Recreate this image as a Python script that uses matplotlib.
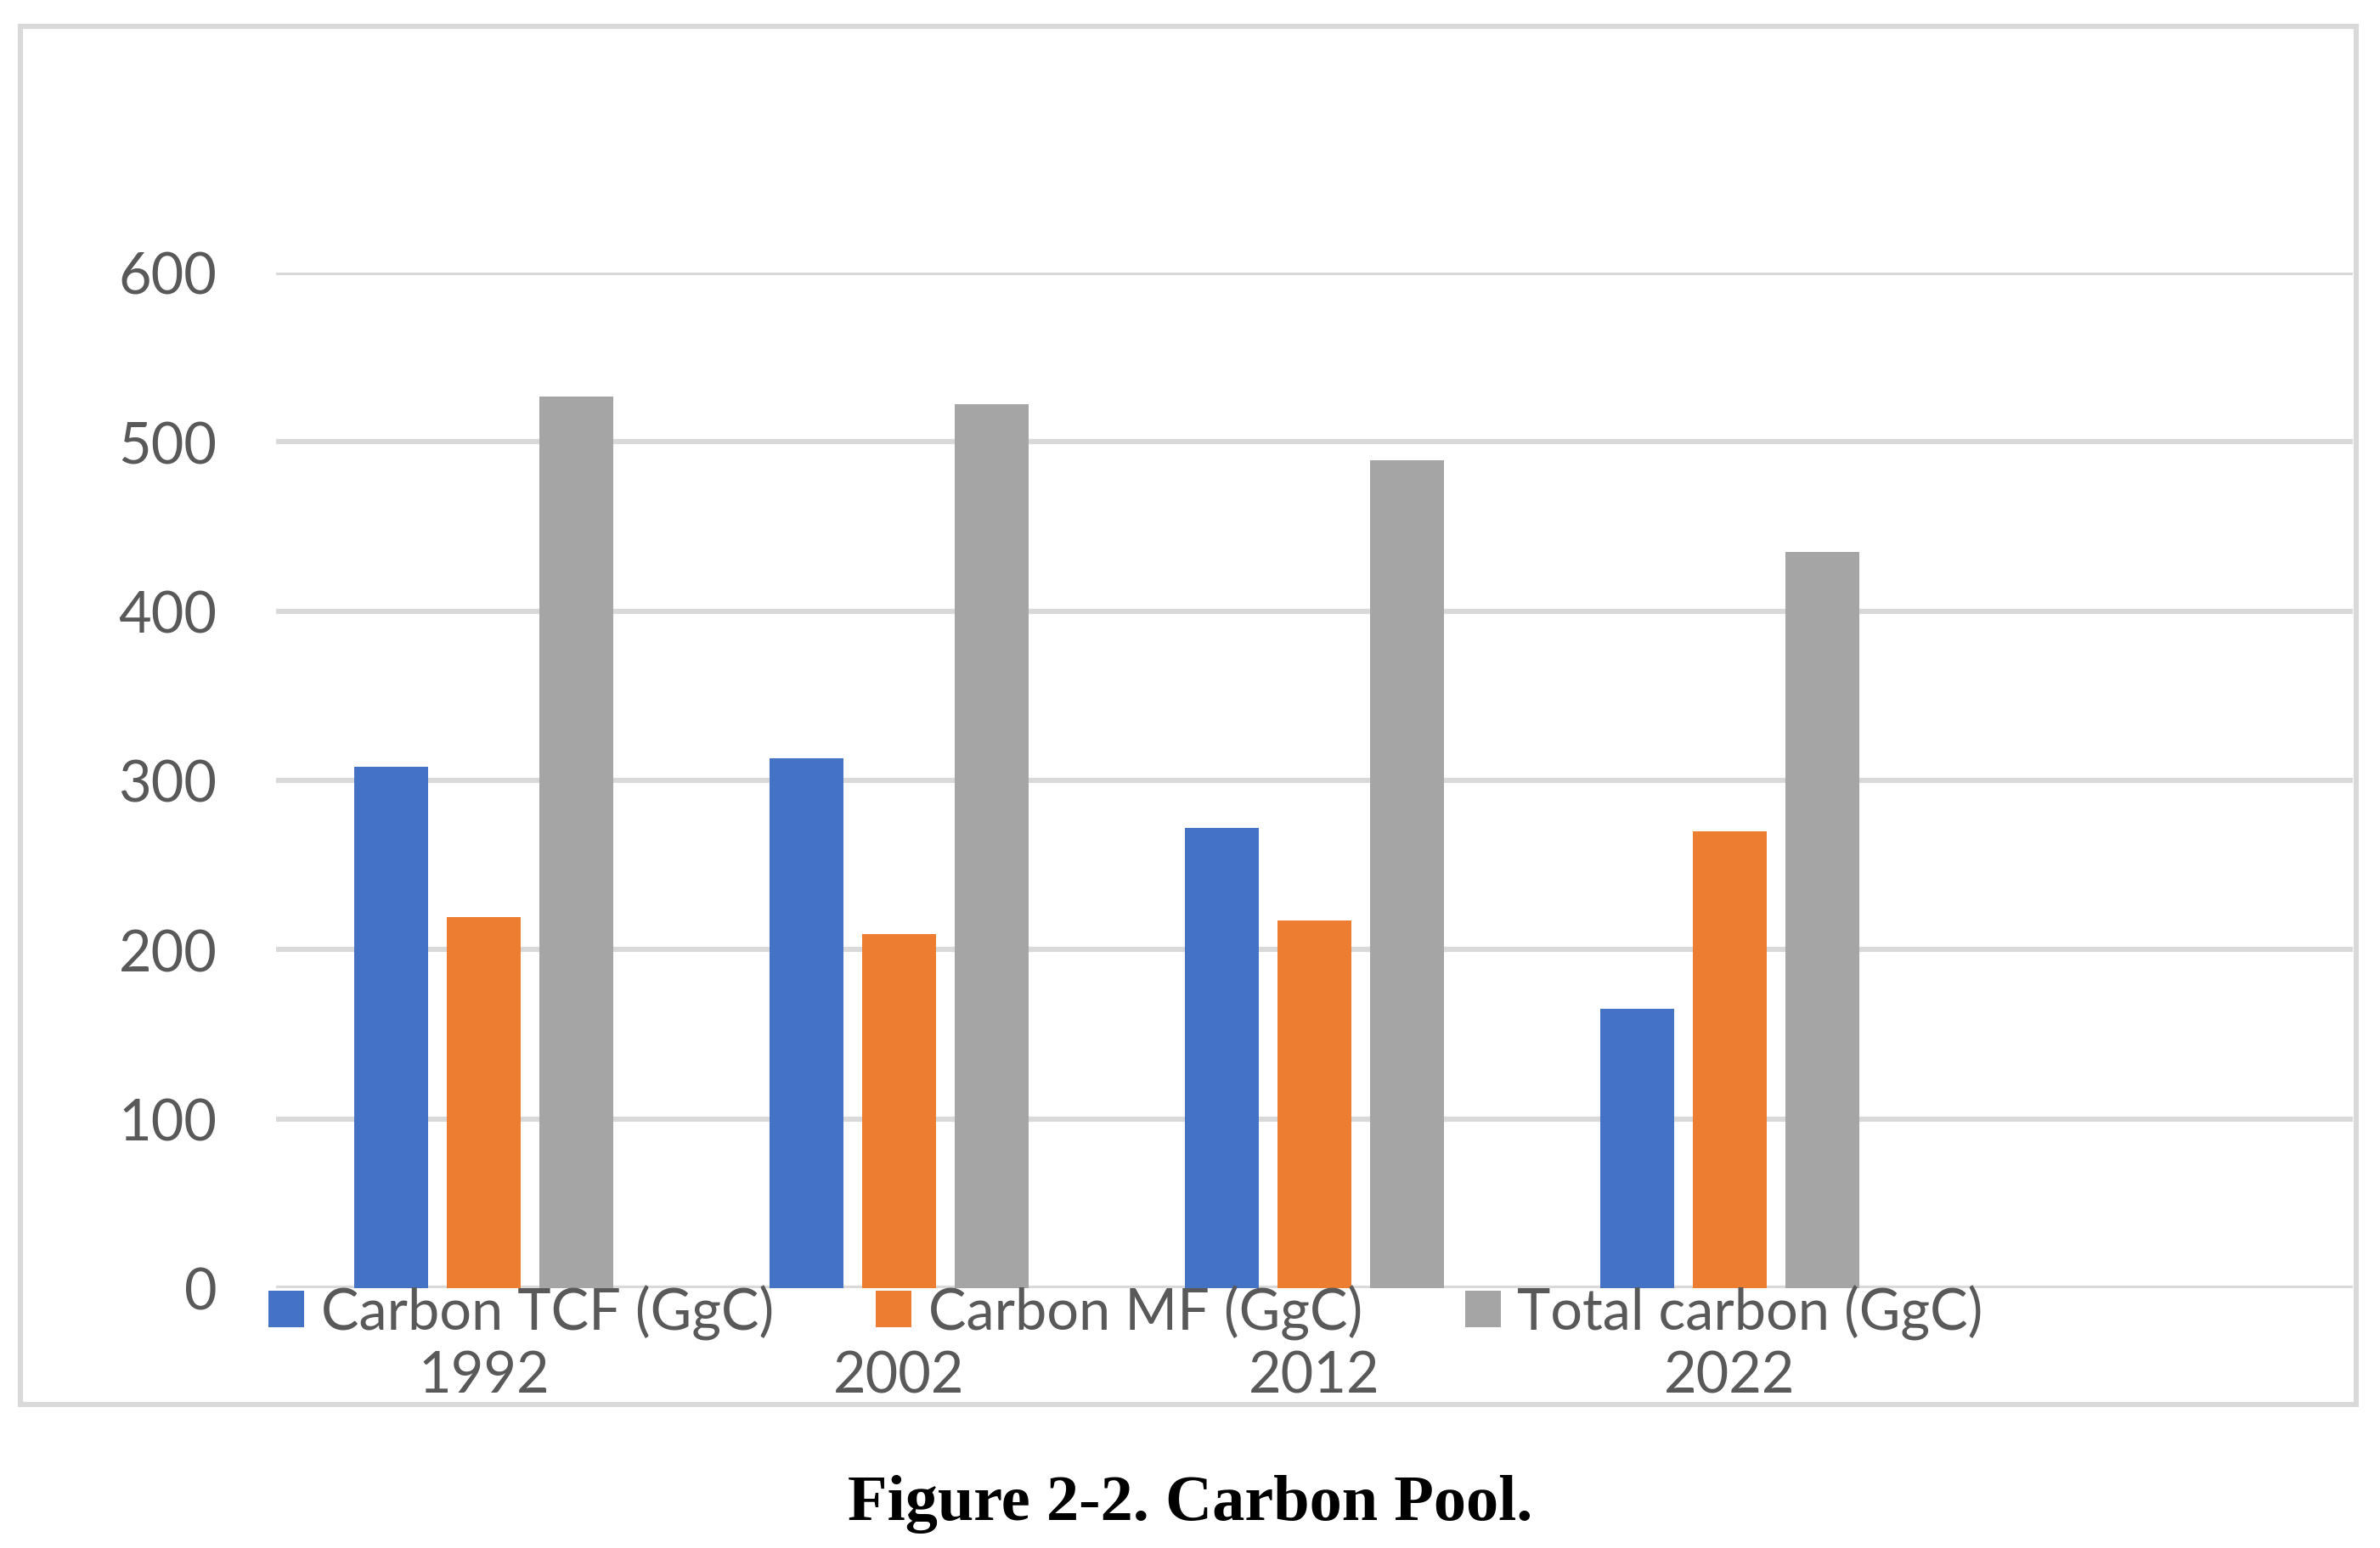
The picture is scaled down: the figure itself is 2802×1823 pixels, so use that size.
import numpy as np
import matplotlib
matplotlib.use("Agg")
import matplotlib.pyplot as plt
from matplotlib.patches import Rectangle

# Data
years = ['1992', '2002', '2012', '2022']
carbon_tcf = [308, 313, 272, 165]
carbon_mf = [219, 209, 217, 270]
total_carbon = [527, 522, 489, 435]
series_names = ['Carbon TCF (GgC)', 'Carbon MF (GgC)', 'Total carbon (GgC)']
colors = ['#4472C4', '#ED7D31', '#A5A5A5']

W, H = 2802, 1824
DPI = 200
plt.rcParams['font.family'] = ['Lato', 'DejaVu Sans']

fig = plt.figure(figsize=(W / DPI, H / DPI), dpi=DPI)
ax = fig.add_axes([325 / W, 1 - 1518 / H, (2770 - 325) / W, (1518 - 322) / H])

# outer chart border
fig.patches.append(Rectangle((23.5 / W, 1 - 1655 / H), (2773.5 - 23.5) / W, (1655 - 32) / H,
                             transform=fig.transFigure, fill=False,
                             edgecolor='#D9D9D9', linewidth=2.2, zorder=0))

x = np.arange(len(years))
width = 0.178
step = 0.223
for i, (vals, name) in enumerate(zip([carbon_tcf, carbon_mf, total_carbon], series_names)):
    ax.bar(x + (i - 1) * step, vals, width, color=colors[i], label=name, zorder=3)

ax.set_xlim(-0.5, 4.5)
ax.set_ylim(0, 600)
ax.set_yticks(range(0, 601, 100))
ax.yaxis.grid(True, color='#D9D9D9', linewidth=2.2, zorder=0)
ax.set_axisbelow(True)
for s in ax.spines.values():
    s.set_visible(False)

ax.set_xticks(x)
ax.set_xticklabels(years)
ax.tick_params(axis='both', length=0, labelsize=24, labelcolor='#595959')
ax.tick_params(axis='x', pad=26)
ax.tick_params(axis='y', pad=25)

fig.legend(loc='center left', bbox_to_anchor=(316 / W, 1 - 1546 / H), ncol=3,
           frameon=False, fontsize=24, labelcolor='#595959',
           handlelength=0.63, handleheight=0.63, handletextpad=0.3,
           columnspacing=1.8, borderpad=0, borderaxespad=0)

fig.text(0.5, 1 - 1790 / H, 'Figure 2-2. Carbon Pool.', ha='center', va='baseline',
         fontsize=27.5, fontweight='bold', family=['Liberation Serif', 'DejaVu Serif'])

fig.savefig('out.png', dpi=DPI)
